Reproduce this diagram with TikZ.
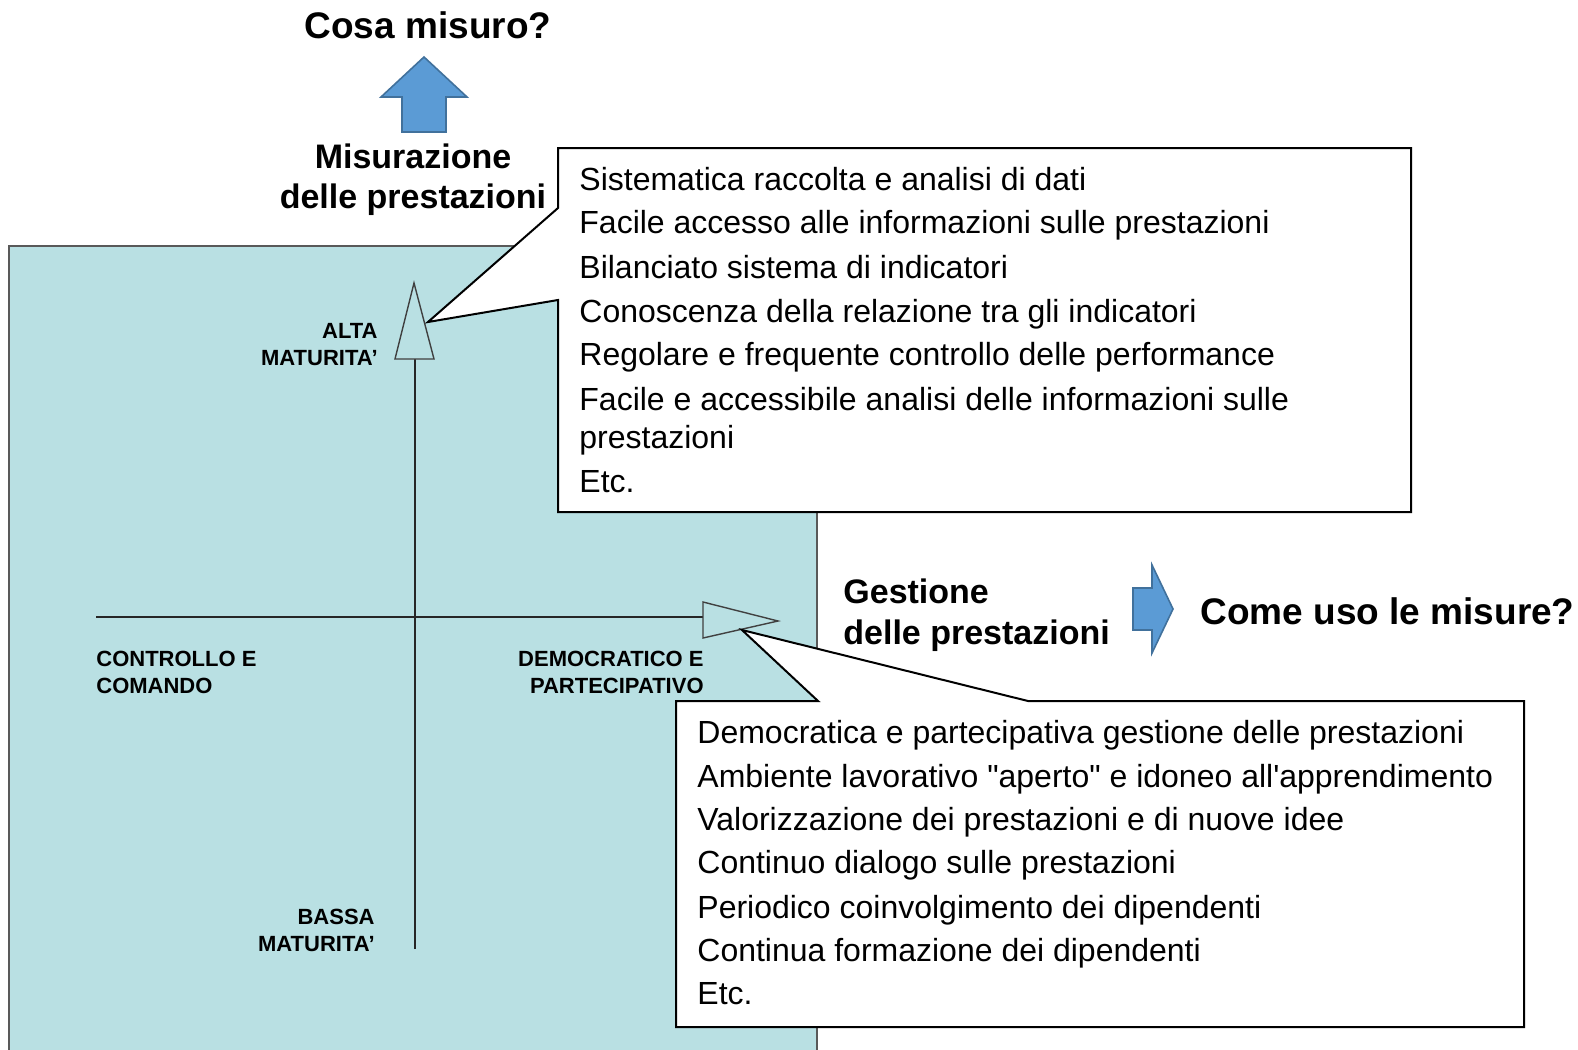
\documentclass[tikz,border=0pt]{standalone}
\usepackage{fontspec}
\setmainfont{Liberation Sans}[Ligatures=TeXOff]
\begin{document}
\begin{tikzpicture}[x=0.5pt,y=-0.5pt,
  teal/.style={fill=tealbg,draw=gray!70!black,line width=1pt},
  callout/.style={fill=white,draw=black,line width=1pt},
  axisline/.style={draw=black!85,line width=1pt},
  axishead/.style={fill=tealbg,draw=black!75,line width=0.7pt},
  bluearrow/.style={fill=arrowblue,draw=arrowedge,line width=0.8pt,line join=miter},
  bigtitle/.style={inner sep=0pt,font=\fontsize{18.5}{22}\selectfont\bfseries},
  heading/.style={inner sep=0pt,font=\fontsize{17}{20}\selectfont\bfseries},
  small/.style={inner sep=0pt,font=\fontsize{11}{13}\selectfont\bfseries},
  item/.style={inner sep=0pt,anchor=base west,font=\fontsize{16}{19}\selectfont}]
\definecolor{tealbg}{HTML}{B9E0E3}
\definecolor{arrowblue}{HTML}{5B9BD5}
\definecolor{arrowedge}{HTML}{41719C}
\useasboundingbox (0,0) rectangle (1578,1049);
\fill[white] (0,0) rectangle (1578,1049);
% teal panel
\draw[teal] (9,246) -- (817,246) -- (817,1060) -- (9,1060) -- cycle;
% axes
\coordinate (vbot) at (415,949);
\coordinate (vtop) at (415,359);
\coordinate (hleft) at (96,617);
\coordinate (hright) at (703,617);
\draw[axisline] (vbot) -- (vtop);
\draw[axisline] (hleft) -- (hright);
\draw[axishead] (395,359) -- (414,283) -- (434,359) -- cycle;
\draw[axishead] (703,602) -- (778,621) -- (703,638) -- cycle;
% callouts
\draw[callout,line join=miter] (558,148) -- (1411,148) -- (1411,512) -- (558,512) -- (558,300) -- (428,322) -- (558,208) -- cycle;
\draw[callout,line join=miter] (676,701) -- (818,701) -- (742,630) -- (1028,701) -- (1524,701) -- (1524,1027) -- (676,1027) -- cycle;
% blue arrows
\draw[bluearrow] (424,57) -- (467,97) -- (446,97) -- (446,132) -- (402,132) -- (402,97) -- (381,97) -- cycle;
\draw[bluearrow] (1133,588) -- (1152,588) -- (1152,565) -- (1173,609) -- (1152,653) -- (1152,630) -- (1133,630) -- cycle;
% titles
\node[bigtitle,anchor=base] (cosa) at (428,38) {Cosa misuro?};
\node[bigtitle,anchor=base west] (come) at (1200,624) {Come uso le misure?};
\node[heading,anchor=base] (mis1) at (413,168) {Misurazione};
\node[heading,anchor=base] (mis2) at (413,208) {delle prestazioni};
\node[heading,anchor=base west] (ges1) at (843,603) {Gestione};
\node[heading,anchor=base west] (ges2) at (843,644) {delle prestazioni};
% axis labels
\node[small,anchor=base east] (alta1) at (378,338) {ALTA};
\node[small,anchor=base east] (alta2) at (378,365) {MATURITA’};
\node[small,anchor=base east] (bassa1) at (375,924) {BASSA};
\node[small,anchor=base east] (bassa2) at (375,951) {MATURITA’};
\node[small,anchor=base west] (ctrl1) at (96,666) {CONTROLLO E};
\node[small,anchor=base west] (ctrl2) at (96,693) {COMANDO};
\node[small,anchor=base east] (dem1) at (704,666) {DEMOCRATICO E};
\node[small,anchor=base east] (dem2) at (704,693) {PARTECIPATIVO};
% box 1 text
\node[item] (a1) at (579,190) {Sistematica raccolta e analisi di dati};
\node[item] (a2) at (579,233) {Facile accesso alle informazioni sulle prestazioni};
\node[item] (a3) at (579,278) {Bilanciato sistema di indicatori};
\node[item] (a4) at (579,322) {Conoscenza della relazione tra gli indicatori};
\node[item] (a5) at (579,365) {Regolare e frequente controllo delle performance};
\node[item] (a6) at (579,410) {Facile e accessibile analisi delle informazioni sulle};
\node[item] (a7) at (579,448) {prestazioni};
\node[item] (a8) at (579,492) {Etc.};
% box 2 text
\node[item] (b1) at (697,743) {Democratica e partecipativa gestione delle prestazioni};
\node[item] (b2) at (697,787) {Ambiente lavorativo "aperto" e idoneo all'apprendimento};
\node[item] (b3) at (697,830) {Valorizzazione dei prestazioni e di nuove idee};
\node[item] (b4) at (697,873) {Continuo dialogo sulle prestazioni};
\node[item] (b5) at (697,918) {Periodico coinvolgimento dei dipendenti};
\node[item] (b6) at (697,961) {Continua formazione dei dipendenti};
\node[item] (b7) at (697,1004) {Etc.};
\end{tikzpicture}
\end{document}
